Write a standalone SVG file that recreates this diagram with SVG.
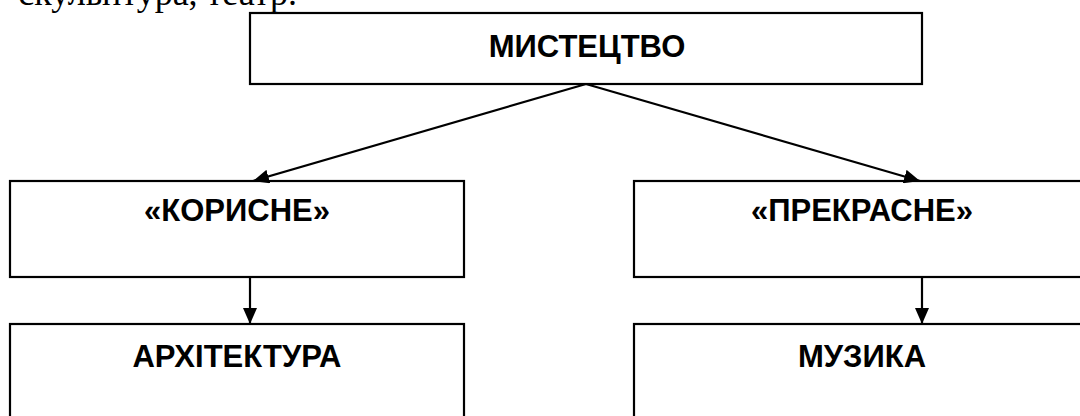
<svg xmlns="http://www.w3.org/2000/svg" width="1080" height="416" viewBox="0 0 1080 416">
  <style>
    .box { fill: #ffffff; stroke: #000000; stroke-width: 2.2; }
    .label { font-family: "Liberation Sans", Arial, sans-serif; font-weight: bold; font-size: 31px; fill: #000000; text-anchor: middle; }
    .body { font-family: "Liberation Serif", "Times New Roman", serif; font-size: 36px; fill: #000000; text-anchor: end; }
    .link { fill: none; stroke: #000000; stroke-width: 2.2; }
  </style>
  <defs>
    <marker id="arrow" markerUnits="userSpaceOnUse" markerWidth="16" markerHeight="14" refX="16" refY="7" orient="auto">
      <path d="M0,0 L16,7 L0,14 Z" fill="#000000"/>
    </marker>
  </defs>

  <rect width="1080" height="416" fill="#ffffff"/>

  <!-- tail of the preceding paragraph -->
  <text class="body" x="297" y="5">скульптура, театр.</text>

  <g id="node-mystetstvo">
    <rect class="box" x="250" y="13" width="672" height="71"/>
    <text class="label" x="587" y="57">МИСТЕЦТВО</text>
  </g>

  <g id="node-korysne">
    <rect class="box" x="10" y="181" width="454" height="96"/>
    <text class="label" x="237" y="221">«КОРИСНЕ»</text>
  </g>

  <g id="node-prekrasne">
    <rect class="box" x="634" y="181" width="456" height="96"/>
    <text class="label" x="862" y="221">«ПРЕКРАСНЕ»</text>
  </g>

  <g id="node-arkhitektura">
    <rect class="box" x="10" y="324" width="454" height="110"/>
    <text class="label" x="237" y="367">АРХІТЕКТУРА</text>
  </g>

  <g id="node-muzyka">
    <rect class="box" x="634" y="324" width="456" height="110"/>
    <text class="label" x="862" y="367">МУЗИКА</text>
  </g>

  <g id="connectors">
    <line class="link" x1="586" y1="84" x2="253" y2="181" marker-end="url(#arrow)"/>
    <line class="link" x1="586" y1="84" x2="920" y2="181" marker-end="url(#arrow)"/>
    <line class="link" x1="250" y1="277" x2="250" y2="324" marker-end="url(#arrow)"/>
    <line class="link" x1="922" y1="277" x2="922" y2="324" marker-end="url(#arrow)"/>
  </g>
</svg>
